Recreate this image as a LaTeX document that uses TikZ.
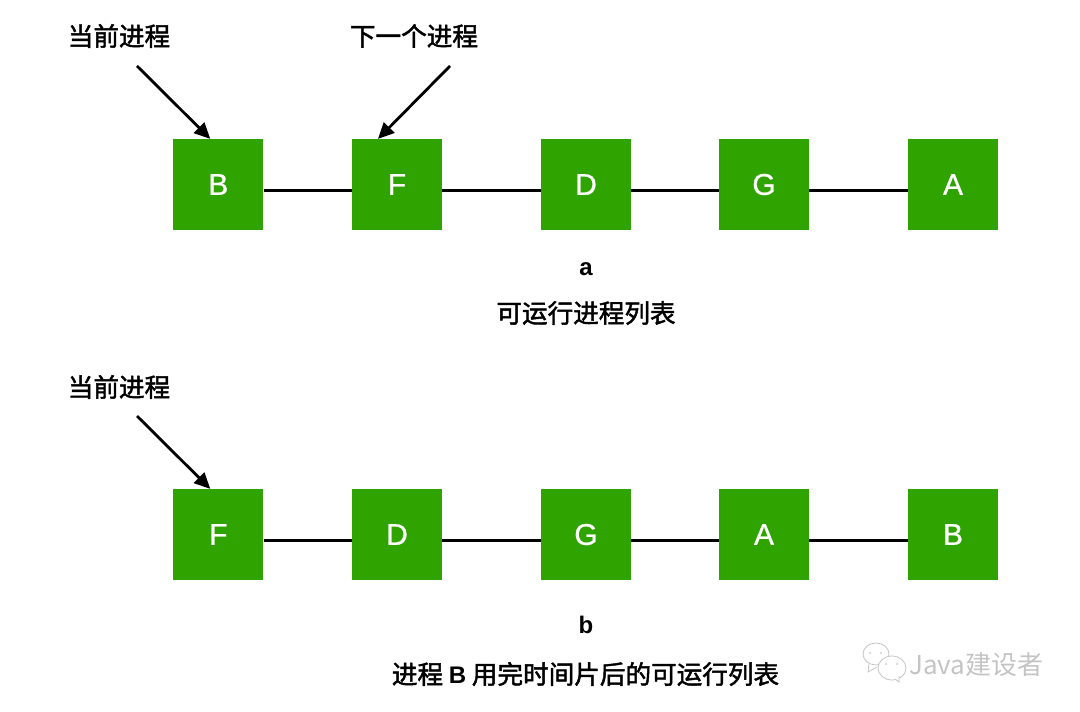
\documentclass[tikz,border=0pt]{standalone}
\usepackage{fontspec}
\setmainfont{Liberation Sans}
\newfontfamily\cjk[FakeBold=1.8]{Noto Sans CJK SC}
\newfontfamily\cjkwm{Noto Sans CJK SC}
\newfontfamily\boxfont[FakeBold=0.8]{Liberation Sans}
\usetikzlibrary{arrows.meta}
\definecolor{boxgreen}{HTML}{2FA400}
\definecolor{wmgray}{HTML}{C4C4C4}
\tikzset{
  procbox/.style={fill=boxgreen,draw=none,minimum width=67.5pt,minimum height=68pt,inner sep=0pt,text=white,font=\boxfont\fontsize{22.5}{22.5}\selectfont},
  link/.style={line width=2.3pt,black},
  pointer/.style={line width=2.1pt,black,-{Triangle[length=12pt,width=11pt]},shorten >=0pt},
  lab/.style={inner sep=0pt,font=\cjk\fontsize{19.2}{19.2}\selectfont,text=black},
  captionlab/.style={inner sep=0pt,font=\bfseries\fontsize{18}{18}\selectfont,text=black},
  wm/.style={inner sep=0pt,text=wmgray,font=\cjkwm\fontsize{19.5}{19.5}\selectfont},
  bubble/.style={draw=wmgray,line width=0.6pt,fill=white}
}
\begin{document}
\begin{tikzpicture}[x=0.75pt,y=-0.75pt]
\useasboundingbox (0,0) rectangle (1080,712);
% row a
\node[procbox] (a1) at (218.3,184.5) {B};
\node[procbox] (a2) at (397,184.5) {F};
\node[procbox] (a3) at (586,184.5) {D};
\node[procbox] (a4) at (764,184.5) {G};
\node[procbox] (a5) at (953,184.5) {A};
\foreach \p/\q in {a1/a2,a2/a3,a3/a4,a4/a5}
  \draw[link] ([yshift=-4.2pt]\p.east) -- ([yshift=-4.2pt]\q.west);
\node[lab] (cur1) at (119,36) {当前进程};
\node[lab] (next1) at (414,36) {下一个进程};
\coordinate (s1) at (137,66);
\coordinate (s2) at (450,66);
\draw[pointer] (s1) -- ([xshift=-6pt]a1.north);
\draw[pointer] (s2) -- ([xshift=-14.25pt]a2.north);
\node[captionlab] (capa) at (586,269) {a};
\node[lab] (texta) at (586,313) {可运行进程列表};
% row b
\node[procbox] (b1) at (218.3,534.5) {F};
\node[procbox] (b2) at (397,534.5) {D};
\node[procbox] (b3) at (586,534.5) {G};
\node[procbox] (b4) at (764,534.5) {A};
\node[procbox] (b5) at (953,534.5) {B};
\foreach \p/\q in {b1/b2,b2/b3,b3/b4,b4/b5}
  \draw[link] ([yshift=-4.2pt]\p.east) -- ([yshift=-4.2pt]\q.west);
\node[lab] (cur2) at (119,387) {当前进程};
\coordinate (s3) at (137,416);
\draw[pointer] (s3) -- ([xshift=-6pt]b1.north);
\node[captionlab] (capb) at (586,625) {b};
\node[lab] (textb) at (585.5,674) {进程 {\normalfont\bfseries\fontsize{18}{18}\selectfont B} 用完时间片后的可运行列表};
% watermark
\draw[bubble] (876,654) ellipse [x radius=13,y radius=11];
\draw[bubble] (869,664) -- (868,672) -- (877,667);
\draw[bubble] (892,668) ellipse [x radius=14,y radius=12];
\draw[bubble] (895,679) -- (899,682) -- (899,676);
\fill[wmgray] (870,653) circle (1) (881,653) circle (1) (886,664) circle (1) (897,664) circle (1);
\node[wm,anchor=west] (mark) at (909,665) {Java建设者};
\end{tikzpicture}
\end{document}
